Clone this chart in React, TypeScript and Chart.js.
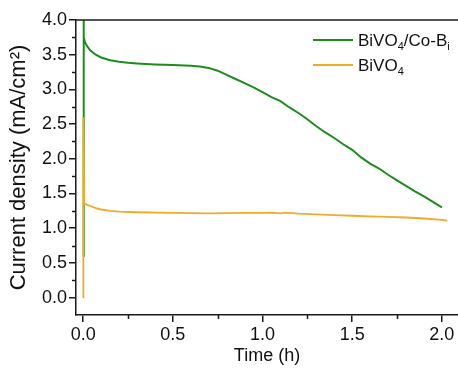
import { useEffect, useRef } from "react";
import { Chart, registerables } from "chart.js";

Chart.register(...registerables);

// ---- data ----
const COB_TIME = [0, 0.002, 0.004, 0.01, 0.02, 0.04, 0.07, 0.1, 0.15, 0.2, 0.25, 0.3, 0.4, 0.5, 0.6, 0.65, 0.7, 0.75, 0.8, 0.85, 0.9, 0.95, 1.0, 1.05, 1.1, 1.15, 1.2, 1.25, 1.3, 1.35, 1.4, 1.45, 1.5, 1.55, 1.6, 1.65, 1.7, 1.75, 1.8, 1.85, 1.9, 1.95, 2.0];
const COB_J = [0.6, 4.3, 3.75, 3.68, 3.63, 3.56, 3.5, 3.46, 3.42, 3.4, 3.385, 3.375, 3.36, 3.35, 3.34, 3.33, 3.31, 3.27, 3.21, 3.15, 3.09, 3.03, 2.96, 2.89, 2.83, 2.74, 2.66, 2.57, 2.47, 2.38, 2.3, 2.21, 2.13, 2.02, 1.93, 1.86, 1.77, 1.69, 1.61, 1.53, 1.46, 1.38, 1.3];
const BIVO_TIME = [0, 0.001, 0.006, 0.02, 0.04, 0.07, 0.1, 0.15, 0.2, 0.3, 0.5, 0.7, 0.9, 1.0, 1.05, 1.1, 1.13, 1.2, 1.3, 1.4, 1.5, 1.6, 1.7, 1.8, 1.9, 2.0, 2.03];
const BIVO_J = [0.0, 2.6, 1.36, 1.34, 1.32, 1.29, 1.27, 1.25, 1.24, 1.23, 1.22, 1.215, 1.22, 1.22, 1.225, 1.215, 1.225, 1.21, 1.2, 1.19, 1.18, 1.17, 1.165, 1.155, 1.14, 1.12, 1.11];

const X_TICKS = [0, 0.5, 1.0, 1.5, 2.0];
const X_MINOR = [0.25, 0.75, 1.25, 1.75];
const Y_TICKS = [0, 0.5, 1.0, 1.5, 2.0, 2.5, 3.0, 3.5, 4.0];
const Y_MINOR = [0.25, 0.75, 1.25, 1.75, 2.25, 2.75, 3.25, 3.75];

const GREEN = "#1c8c1c";
const ORANGE = "#f0ab2a";
const AXIS = "#1a1a1a";
const FONT = "'Liberation Sans', Arial, sans-serif";

// legend entries: parts of [text, isSubscript]
const LEGEND = [
  { color: GREEN, parts: [["BiVO", false], ["4", true], ["/Co-B", false], ["i", true]] as [string, boolean][] },
  { color: ORANGE, parts: [["BiVO", false], ["4", true]] as [string, boolean][] },
];

const extrasPlugin = {
  id: "extras",
  afterDraw(chart: any) {
    const ctx = chart.ctx;
    const { left, right, top, bottom } = chart.chartArea;
    const xs = chart.scales.x;
    const ys = chart.scales.y;
    ctx.save();
    ctx.strokeStyle = AXIS;
    ctx.lineWidth = 1.5;
    // top frame line
    ctx.beginPath();
    ctx.moveTo(left - 0.75, top);
    ctx.lineTo(right, top);
    ctx.stroke();
    // minor ticks
    ctx.beginPath();
    for (const v of X_MINOR) {
      const px = Math.round(xs.getPixelForValue(v)) + 0.5;
      ctx.moveTo(px, bottom);
      ctx.lineTo(px, bottom + 4);
    }
    for (const v of Y_MINOR) {
      const py = Math.round(ys.getPixelForValue(v)) + 0.5;
      ctx.moveTo(left, py);
      ctx.lineTo(left - 4, py);
    }
    ctx.stroke();

    // legend
    const lx0 = 313, lx1 = 353, tx = 358;
    const rows = [40, 65];
    LEGEND.forEach((entry, i) => {
      const y = rows[i];
      ctx.strokeStyle = entry.color;
      ctx.lineWidth = 2;
      ctx.beginPath();
      ctx.moveTo(lx0, y);
      ctx.lineTo(lx1, y);
      ctx.stroke();
      let x = tx;
      ctx.fillStyle = "#111";
      ctx.textBaseline = "alphabetic";
      ctx.textAlign = "left";
      for (const [text, sub] of entry.parts) {
        ctx.font = sub ? `11px ${FONT}` : `17px ${FONT}`;
        ctx.fillText(text, x, sub ? y + 10 : y + 6);
        x += ctx.measureText(text).width;
      }
    });
    ctx.restore();
  },
};

export default function App() {
  const ref = useRef<HTMLCanvasElement | null>(null);

  useEffect(() => {
    document.body.style.margin = "0";
    if (!ref.current) return;
    Chart.defaults.font.family = FONT;
    const chart = new Chart(ref.current, {
      type: "line",
      data: {
        datasets: [
          {
            label: "BiVO4/Co-Bi",
            data: COB_TIME.map((t, i) => ({ x: t, y: COB_J[i] })),
            borderColor: GREEN,
            borderWidth: 2,
            pointRadius: 0,
            fill: false,
            tension: 0,
            order: 1,
          },
          {
            label: "BiVO4",
            data: BIVO_TIME.map((t, i) => ({ x: t, y: BIVO_J[i] })),
            borderColor: ORANGE,
            borderWidth: 1.8,
            pointRadius: 0,
            fill: false,
            tension: 0,
            order: 0,
          },
        ],
      },
      options: {
        animation: false,
        responsive: true,
        maintainAspectRatio: false,
        layout: { padding: { top: 20, right: 0, left: 0, bottom: 0 } },
        plugins: { legend: { display: false }, tooltip: { enabled: false } },
        scales: {
          x: {
            type: "linear",
            min: -0.04,
            max: 2.09,
            afterBuildTicks: (s: any) => {
              s.ticks = X_TICKS.map((v) => ({ value: v }));
            },
            afterFit: (s: any) => {
              s.height = 56;
            },
            ticks: {
              callback: (v: any) => Number(v).toFixed(1),
              font: { size: 18 },
              color: "#111",
              padding: 2,
              maxRotation: 0,
              autoSkip: false,
            },
            grid: { drawOnChartArea: false, drawTicks: true, tickLength: 7, color: AXIS, lineWidth: 1.5 },
            border: { color: AXIS, width: 1.5 },
            title: { display: true, text: "Time (h)", font: { size: 18 }, color: "#111", padding: { top: 0, bottom: 4 } },
          },
          y: {
            type: "linear",
            min: -0.25,
            max: 4.0,
            afterBuildTicks: (s: any) => {
              s.ticks = Y_TICKS.map((v) => ({ value: v }));
            },
            afterFit: (s: any) => {
              s.width = 76;
            },
            ticks: {
              callback: (v: any) => Number(v).toFixed(1),
              font: { size: 18 },
              color: "#111",
              padding: 2,
              autoSkip: false,
            },
            grid: { drawOnChartArea: false, drawTicks: true, tickLength: 7, color: AXIS, lineWidth: 1.5 },
            border: { color: AXIS, width: 1.5 },
            title: { display: true, text: "Current density (mA/cm²)", font: { size: 22 }, color: "#111", padding: { top: 6, bottom: 0 } },
          },
        },
      },
      plugins: [extrasPlugin],
    });
    return () => chart.destroy();
  }, []);

  return (
    <div style={{ position: "relative", width: 458, height: 371 }}>
      <canvas ref={ref} />
    </div>
  );
}
